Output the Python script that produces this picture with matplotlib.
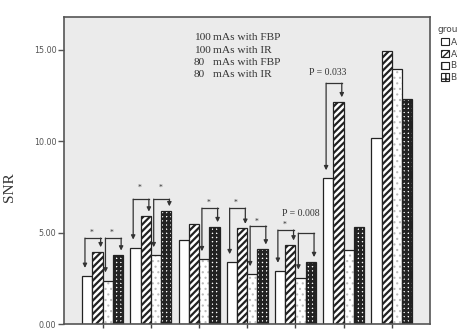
import matplotlib
matplotlib.use('Agg')
import matplotlib.pyplot as plt
import matplotlib.patches as mpatches
import numpy as np

# SNR per group, four protocols
groups = ['1', '2', '3', '4', '5', '6', '7']
snr_100_fbp = [2.62, 4.17, 4.59, 3.37, 2.90, 7.96, 10.15]
snr_100_ir = [3.95, 5.90, 5.46, 5.23, 4.32, 12.15, 14.94]
snr_80_fbp = [2.37, 3.75, 3.53, 2.71, 2.53, 4.04, 13.93]
snr_80_ir = [3.77, 6.19, 5.32, 4.10, 3.41, 5.32, 12.28]
legend_labels = ['A1', 'A2', 'B1', 'B2']
protocol_names = ['100', '100', '80', '80']
protocol_text = ['mAs with FBP', 'mAs with IR', 'mAs with FBP', 'mAs with IR']

# (group, from series, to series, label, bracket top, label y)
brackets = [(0, 0, 1, '*', 4.70, 4.98),
            (0, 2, 3, '*', 4.70, 4.98),
            (1, 0, 1, '*', 6.83, 7.45),
            (1, 2, 3, '*', 6.83, 7.45),
            (2, 2, 3, '*', 6.34, 6.62),
            (3, 0, 1, '*', 6.34, 6.62),
            (3, 2, 3, '*', 5.36, 5.60),
            (4, 0, 1, '*', 5.14, 5.40),
            (4, 2, 3, 'P = 0.008', 4.97, 6.05),
            (5, 0, 1, 'P = 0.033', 13.17, 13.75)]

series = [snr_100_fbp, snr_100_ir, snr_80_fbp, snr_80_ir]

fig = plt.figure(figsize=(4.57, 3.30), dpi=100)
ax = fig.add_axes([0.140, 0.018, 0.801, 0.930])
ax.set_facecolor('#ebebeb')

x = np.arange(len(groups))
w = 0.2125
offs = [(k - 1.5) * w for k in range(4)]

# white bars
ax.bar(x + offs[0], snr_100_fbp, w, color='white', edgecolor='#222222', linewidth=0.9, zorder=2)
# diagonal stripes
plt.rcParams['hatch.linewidth'] = 1.6
ax.bar(x + offs[1], snr_100_ir, w, color='white', edgecolor='#222222', hatch='/////', linewidth=0.9, zorder=2)
# faint dotted
plt.rcParams['hatch.linewidth'] = 0.8
ax.bar(x + offs[2], snr_80_fbp, w, color='white', edgecolor='#bbbbbb', hatch='...', linewidth=0, zorder=2)
ax.bar(x + offs[2], snr_80_fbp, w, color='none', edgecolor='#222222', linewidth=0.9, zorder=2)
# checker
plt.rcParams['hatch.linewidth'] = 2.0
ax.bar(x + offs[3], snr_80_ir, w, color='white', edgecolor='#222222', hatch='++++', linewidth=0.9, zorder=2)

# significance brackets
for g, i, j, lab, top, ly in brackets:
    xl = g + offs[i] - w / 2 + 0.06
    xr = g + offs[j] + w / 2 - 0.04
    tip_l = series[i][g] + 0.45
    tip_r = series[j][g] + 0.25
    ax.plot([xl, xr], [top, top], color='#333333', lw=0.9, zorder=3)
    for xx, tip in [(xl, tip_l), (xr, tip_r)]:
        ax.annotate('', xy=(xx, tip), xytext=(xx, top),
                    arrowprops=dict(arrowstyle='-|>', color='#333333', lw=0.9,
                                    mutation_scale=6, shrinkA=0, shrinkB=0),
                    zorder=3)
    if lab == '*':
        ax.text((xl + xr) / 2 - 0.03, ly, lab, ha='center', va='center',
                fontsize=5.5, family='Liberation Serif', color='#333333', zorder=3)
    else:
        ax.text((xl + xr) / 2 - 0.12, ly, lab, ha='center', va='center',
                fontsize=7, family='Liberation Serif', color='#333333', zorder=3)

ax.set_xlim(-0.80, 6.79)
ax.set_ylim(0, 16.78)
ax.set_xticks(x)
ax.set_xticklabels([])
ax.set_yticks([0, 5, 10, 15])
ax.set_yticklabels(['%.2f' % v for v in [0, 5, 10, 15]])
ax.tick_params(axis='y', direction='out', length=4.5, width=1, colors='#555555',
               labelsize=5.8, pad=1)
ax.tick_params(axis='x', direction='out', length=3, width=1, colors='#444444')
for s in ax.spines.values():
    s.set_color('#555555')
    s.set_linewidth(1.2)

fig.text(10 / 457, 1 - 187 / 330, 'SNR', rotation=90, ha='center', va='center',
         fontsize=11, family='Liberation Serif', color='#333333')

# protocol key inside the plot
for n, (num, txt) in enumerate(zip(protocol_names, protocol_text)):
    yy = 1 - (38 + n * 12.3) / 330
    fig.text(194 / 457, yy, num, ha='left', va='center', fontsize=8.2,
             family='Liberation Serif', color='#333333')
    fig.text(213 / 457, yy, txt, ha='left', va='center', fontsize=8.2,
             family='Liberation Serif', color='#333333')

# legend (cut at the right edge like the source)
fig.text(437 / 457, 1 - 29 / 330, 'groups', ha='left', va='center',
         fontsize=6.5, color='#444444')
plt.rcParams['hatch.linewidth'] = 1.0
handles = [mpatches.Patch(facecolor='white', edgecolor='#222222', lw=0.8),
           mpatches.Patch(facecolor='white', edgecolor='#222222', hatch='/////', lw=0.8),
           mpatches.Patch(facecolor='white', edgecolor='#222222', hatch='|', lw=0.8),
           mpatches.Patch(facecolor='white', edgecolor='#222222', hatch='++', lw=0.8)]
leg = fig.legend(handles, legend_labels, loc='upper left',
                 bbox_to_anchor=(441 / 457, 1 - 38 / 330), frameon=False,
                 fontsize=6.5, handlelength=0.85, handleheight=0.85,
                 handletextpad=0.2, labelspacing=0.3, borderpad=0, borderaxespad=0)
for t in leg.get_texts():
    t.set_color('#444444')

plt.savefig('out.png', dpi=100)
